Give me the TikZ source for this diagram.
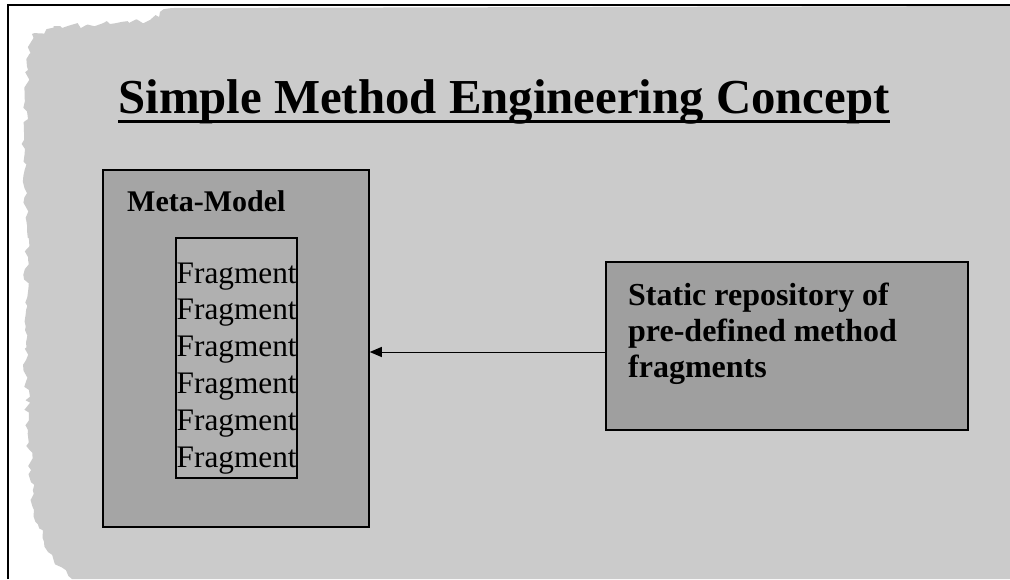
\documentclass[tikz,border=0pt]{standalone}
\usepackage{fontspec}
\setmainfont{Liberation Serif}
\usetikzlibrary{arrows.meta,decorations.pathmorphing}

\definecolor{paper}{HTML}{CBCBCB}
\definecolor{metafill}{HTML}{A5A5A5}
\definecolor{fragfill}{HTML}{B0B0B0}
\definecolor{repofill}{HTML}{9F9F9F}

\tikzset{
  panel/.style={draw=black, line width=1.5pt, inner sep=0pt, rectangle},
  fragtext/.style={font=\fontsize{31.3}{36}\selectfont, inner sep=0pt, anchor=base west},
  boldlabel/.style={font=\fontsize{30}{36}\selectfont\bfseries, inner sep=0pt, anchor=base west},
  repotext/.style={font=\fontsize{32}{36}\selectfont\bfseries, inner sep=0pt, anchor=base west},
  arr/.style={line width=1pt, -{Triangle[length=12pt,width=10pt]}},
  torn/.style={decoration={random steps, segment length=5pt, amplitude=3pt}},
}

\begin{document}
\begin{tikzpicture}[x=1pt,y=-1pt]
  \useasboundingbox (0,0) rectangle (1010,579);
  \fill[white] (0,0) rectangle (1010,579);

  % paper sheet: straight right and bottom edges, rough torn left and top edges
  \pgfmathsetseed{7}
  \fill[paper] (1010,6) -- (1010,579) -- (72,579)
    decorate[torn] { -- (48,552) -- (34,510) -- (28,430) -- (25,330)
      -- (27,230) -- (24,140) -- (28,70) -- (32,34) -- (60,26)
      -- (110,24) -- (150,20) -- (172,8) }
    -- cycle;

  % frame lines along the top and left
  \draw[line width=1.5pt] (8,579) -- (8,5) -- (1010,5);

  % title
  \node[inner sep=0pt, anchor=base, font=\fontsize{48.8}{56}\selectfont\bfseries]
    (title) at (504,113) {Simple Method Engineering Concept};
  \draw[line width=3pt] ([yshift=-8pt]title.base west) -- ([yshift=-8pt]title.base east);

  % meta-model container
  \node[panel, fill=metafill, minimum width=266pt, minimum height=357pt]
    (meta) at (236,348.5) {};
  \node[boldlabel] (metalabel) at (127,211) {Meta-Model};

  % list of fragments
  \node[panel, fill=fragfill, line width=1.2pt, minimum width=121pt, minimum height=240pt]
    (frags) at (236.5,358) {};
  \foreach \i/\y in {1/283,2/319.8,3/356.6,4/393.4,5/430.2,6/467}
    \node[fragtext] (frag\i) at (176.5,\y) {Fragment};

  % repository box
  \node[panel, fill=repofill, minimum width=362pt, minimum height=168pt]
    (repo) at (787,346) {};
  \node[repotext] (repo1) at (628,305) {Static repository of};
  \node[repotext] (repo2) at (628,341) {pre-defined method};
  \node[repotext] (repo3) at (628,377) {fragments};

  % connector from repository to meta-model
  \draw[arr] ([yshift=-6pt]repo.west) coordinate (arrstart) -- (meta.east |- arrstart);
\end{tikzpicture}
\end{document}
